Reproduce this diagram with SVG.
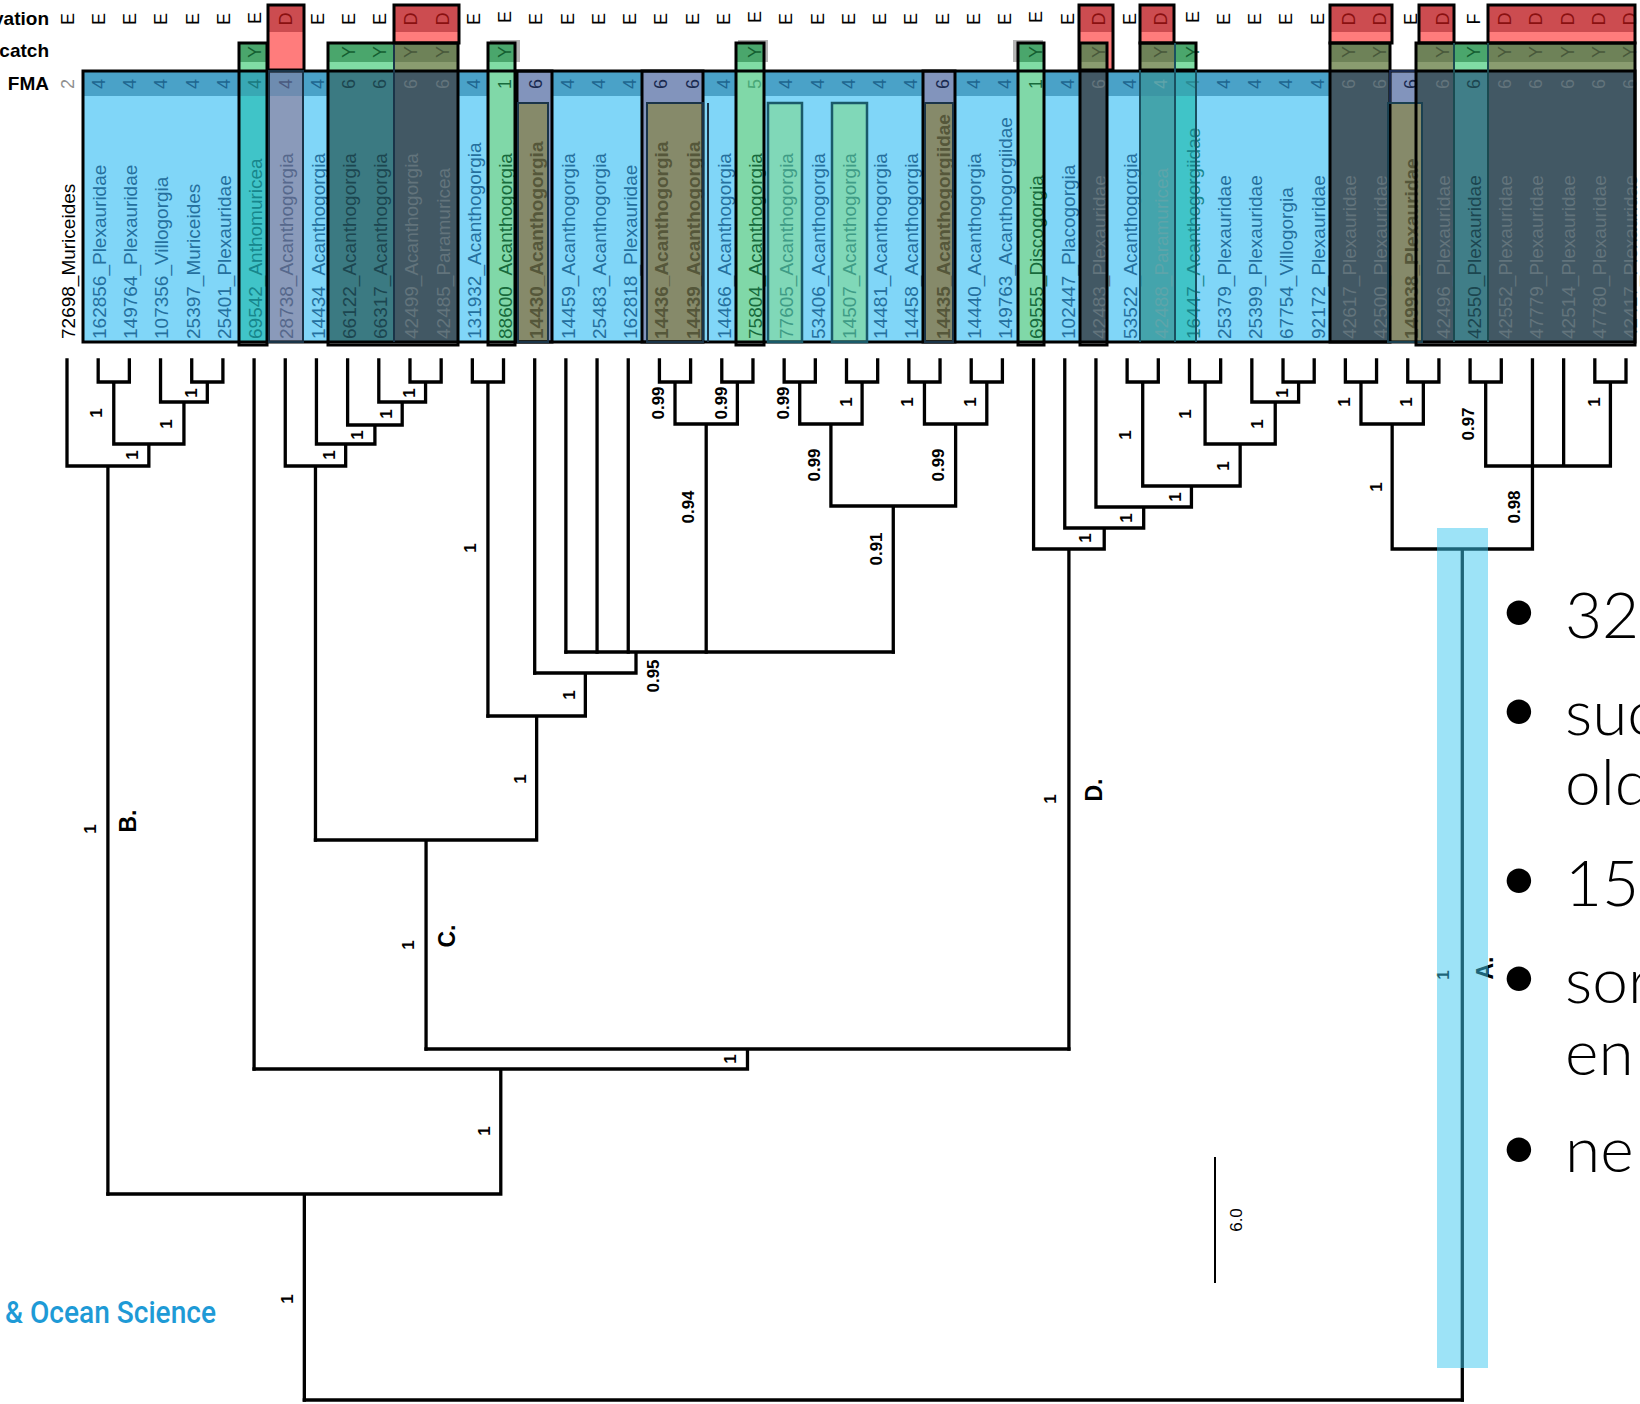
<svg xmlns="http://www.w3.org/2000/svg" width="1640" height="1404" viewBox="0 0 1640 1404">
<style>
text{font-family:"Liberation Sans",Arial,sans-serif}
.lf{font-size:19px}
.b{font-weight:bold}
.cl{font-size:18px;text-anchor:middle}
.sp{font-size:17px;font-weight:bold;text-anchor:middle}
.cld{font-size:23px;font-weight:bold;text-anchor:middle}
.hd{font-size:19px;font-weight:bold;text-anchor:end}
.tree{fill:none;stroke:#000;stroke-width:3.3;stroke-linecap:square}
.ol{fill:none;stroke:#000;stroke-width:3}
.ol2{fill:none;stroke:#1a3448;stroke-width:2}
.blt{font-family:Lato,"Open Sans",sans-serif;font-weight:300;font-size:64px;fill:#000}
.bul{font-family:Lato,"Open Sans",sans-serif;font-size:66px;fill:#000;text-anchor:middle}
.tb{fill:#25709e}.tt{fill:#17868c}.tp{fill:#56688c}.tk{fill:#1c4650}.ts{fill:#62747c}
.tg{fill:#176a3c}.to{fill:#55573a}.tm{fill:#3f9c86}.tc{fill:#5ea4aa}
.fb{fill:#1e6690}.fn{fill:#1a2a50}.fl{fill:#4aa878}.fgr{fill:#909090}
.ed{fill:#8a1010}.yg{fill:#145e30}.yo{fill:#48583a}
.rd{fill:#cc4c50}.rl{fill:#ff7c7c}.gd{fill:#4aa66c}.gl{fill:#80dca4}.od{fill:#6e8258}.oll{fill:#8a9c70}
.sl{fill:#425864}.pu{fill:#8294bc}.olv{fill:#868a6a}.lg{fill:#80d8a8}.mt{fill:#80d8b8}
</style>

<g id="background">
<rect x="83" y="71" width="1552" height="271" fill="#80d6f8"/>
<rect x="83" y="72" width="1552" height="24" fill="#4aa2c8"/>
<rect x="239" y="71" width="28" height="271" fill="#40c4c8"/>
<rect x="239" y="72" width="28" height="24" fill="#38a8b4"/>
<rect x="268" y="71" width="36" height="271" fill="#8a9aba"/>
<rect x="268" y="72" width="36" height="24" fill="#6e8cb0"/>
<rect x="328" y="71" width="66" height="271" fill="#3b7a82"/>
<rect x="394" y="71" width="64" height="271" class="sl"/>
<rect x="488" y="71" width="27" height="271" class="lg"/>
<rect x="517" y="71" width="35" height="271" class="pu"/>
<rect x="517" y="103" width="31" height="239" class="olv"/>
<rect x="642" y="71" width="61" height="271" class="pu"/>
<rect x="647" y="103" width="56" height="239" class="olv"/>
<rect x="736" y="71" width="28" height="271" class="lg"/>
<rect x="768" y="103" width="34" height="239" class="mt"/>
<rect x="832" y="103" width="35" height="239" class="mt"/>
<rect x="923" y="71" width="32" height="271" class="pu"/>
<rect x="925" y="103" width="28" height="239" class="olv"/>
<rect x="1018" y="71" width="26" height="271" class="lg"/>
<rect x="1080" y="71" width="27" height="271" class="sl"/>
<rect x="1140" y="71" width="35" height="271" fill="#44a4ac"/>
<rect x="1140" y="72" width="35" height="24" fill="#3c96a4"/>
<rect x="1175" y="71" width="21" height="271" fill="#40c4c8"/>
<rect x="1175" y="72" width="21" height="24" fill="#38a8b4"/>
<rect x="1330" y="71" width="60" height="271" class="sl"/>
<rect x="1416" y="71" width="38" height="271" class="sl"/>
<rect x="1390" y="71" width="26" height="32" class="pu"/>
<rect x="1388" y="103" width="34" height="239" class="olv"/>
<rect x="1454" y="71" width="34" height="271" fill="#407e88"/>
<rect x="1488" y="71" width="147" height="271" class="sl"/>
<rect x="268" y="5" width="36" height="27" class="rd"/><rect x="268" y="32" width="36" height="38" class="rl"/>
<rect x="394" y="5" width="65" height="27" class="rd"/><rect x="394" y="32" width="65" height="11" class="rl"/>
<rect x="1079" y="5" width="34" height="27" class="rd"/><rect x="1079" y="32" width="34" height="38" class="rl"/>
<rect x="1140" y="5" width="34" height="27" class="rd"/><rect x="1140" y="32" width="34" height="11" class="rl"/>
<rect x="1330" y="5" width="62" height="27" class="rd"/><rect x="1330" y="32" width="62" height="11" class="rl"/>
<rect x="1419" y="5" width="35" height="27" class="rd"/><rect x="1419" y="32" width="35" height="11" class="rl"/>
<rect x="1488" y="5" width="147" height="27" class="rd"/><rect x="1488" y="32" width="147" height="11" class="rl"/>
<rect x="490" y="40" width="30" height="22" fill="#b4b4b4"/>
<rect x="738" y="40" width="30" height="22" fill="#b4b4b4"/>
<rect x="1013" y="40" width="30" height="22" fill="#b4b4b4"/>
<rect x="239" y="43" width="28" height="19" class="gd"/><rect x="239" y="62" width="28" height="8" class="gl"/>
<rect x="328" y="43" width="66" height="19" class="gd"/><rect x="328" y="62" width="66" height="8" class="gl"/>
<rect x="394" y="43" width="64" height="19" class="od"/><rect x="394" y="62" width="64" height="8" class="oll"/>
<rect x="488" y="43" width="27" height="19" class="gd"/><rect x="488" y="62" width="27" height="8" class="gl"/>
<rect x="736" y="43" width="28" height="19" class="gd"/><rect x="736" y="62" width="28" height="8" class="gl"/>
<rect x="1018" y="43" width="26" height="19" class="gd"/><rect x="1018" y="62" width="26" height="8" class="gl"/>
<rect x="1080" y="43" width="27" height="19" class="od"/><rect x="1080" y="62" width="27" height="8" class="oll"/>
<rect x="1140" y="43" width="35" height="19" class="od"/><rect x="1140" y="62" width="35" height="8" class="oll"/>
<rect x="1175" y="43" width="21" height="19" class="gd"/><rect x="1175" y="62" width="21" height="8" class="gl"/>
<rect x="1330" y="43" width="60" height="19" class="od"/><rect x="1330" y="62" width="60" height="8" class="oll"/>
<rect x="1416" y="43" width="38" height="19" class="od"/><rect x="1416" y="62" width="38" height="8" class="oll"/>
<rect x="1454" y="43" width="34" height="19" class="gd"/><rect x="1454" y="62" width="34" height="8" class="gl"/>
<rect x="1488" y="43" width="147" height="19" class="od"/><rect x="1488" y="62" width="147" height="8" class="oll"/>
</g>

<g id="headers">
<text class="hd" x="49" y="25">vation</text>
<text class="hd" x="49" y="57">catch</text>
<text class="hd" x="49" y="90">FMA</text>
</g>

<g id="leaf0" transform="rotate(-90)"><text class="lf" x="-339" y="74.5">72698_Muriceides</text><text class="cl" x="-19" y="73.5">E</text><text class="cl fgr" x="-84" y="73.5">2</text></g>
<g id="leaf1" transform="rotate(-90)"><text class="lf tb" x="-339" y="105.75">162856_Plexauridae</text><text class="cl" x="-19" y="104.75">E</text><text class="cl fb" x="-84" y="104.75">4</text></g>
<g id="leaf2" transform="rotate(-90)"><text class="lf tb" x="-339" y="137">149764_Plexauridae</text><text class="cl" x="-19" y="136">E</text><text class="cl fb" x="-84" y="136">4</text></g>
<g id="leaf3" transform="rotate(-90)"><text class="lf tb" x="-339" y="168.25">107356_Villogorgia</text><text class="cl" x="-19" y="167.25">E</text><text class="cl fb" x="-84" y="167.25">4</text></g>
<g id="leaf4" transform="rotate(-90)"><text class="lf tb" x="-339" y="199.5">25397_Muriceides</text><text class="cl" x="-19" y="198.5">E</text><text class="cl fb" x="-84" y="198.5">4</text></g>
<g id="leaf5" transform="rotate(-90)"><text class="lf tb" x="-339" y="230.75">25401_Plexauridae</text><text class="cl" x="-19" y="229.75">E</text><text class="cl fb" x="-84" y="229.75">4</text></g>
<g id="leaf6" transform="rotate(-90)"><text class="lf tt" x="-339" y="262">69542_Anthomuricea</text><text class="cl" x="-18" y="261">E</text><text class="cl yg" x="-52" y="261">Y</text><text class="cl" fill="#1a7a80" x="-84" y="261">4</text></g>
<g id="leaf7" transform="rotate(-90)"><text class="lf tp" x="-339" y="293.25">28738_Acanthogorgia</text><text class="cl ed" x="-19" y="292.25">D</text><text class="cl" fill="#4a5a80" x="-84" y="292.25">4</text></g>
<g id="leaf8" transform="rotate(-90)"><text class="lf tb" x="-339" y="324.5">14434_Acanthogorgia</text><text class="cl" x="-19" y="323.5">E</text><text class="cl fb" x="-84" y="323.5">4</text></g>
<g id="leaf9" transform="rotate(-90)"><text class="lf tk" x="-339" y="355.75">66122_Acanthogorgia</text><text class="cl" x="-19" y="354.75">E</text><text class="cl yg" x="-52" y="354.75">Y</text><text class="cl tk" x="-84" y="354.75">6</text></g>
<g id="leaf10" transform="rotate(-90)"><text class="lf tk" x="-339" y="387">66317_Acanthogorgia</text><text class="cl" x="-19" y="386">E</text><text class="cl yg" x="-52" y="386">Y</text><text class="cl tk" x="-84" y="386">6</text></g>
<g id="leaf11" transform="rotate(-90)"><text class="lf ts" x="-339" y="418.25">42499_Acanthogorgia</text><text class="cl ed" x="-19" y="417.25">D</text><text class="cl yo" x="-52" y="417.25">Y</text><text class="cl ts" x="-84" y="417.25">6</text></g>
<g id="leaf12" transform="rotate(-90)"><text class="lf ts" x="-339" y="449.5">42485_Paramuricea</text><text class="cl ed" x="-19" y="448.5">D</text><text class="cl yo" x="-52" y="448.5">Y</text><text class="cl ts" x="-84" y="448.5">6</text></g>
<g id="leaf13" transform="rotate(-90)"><text class="lf tb" x="-339" y="480.75">131932_Acanthogorgia</text><text class="cl" x="-19" y="479.75">E</text><text class="cl fb" x="-84" y="479.75">4</text></g>
<g id="leaf14" transform="rotate(-90)"><text class="lf tg" x="-339" y="512">88600_Acanthogorgia</text><text class="cl" x="-17" y="511">E</text><text class="cl yg" x="-52" y="511">Y</text><text class="cl tg" x="-84" y="511">1</text></g>
<g id="leaf15" transform="rotate(-90)"><text class="lf b to" x="-339" y="543.25">14430_Acanthogorgia</text><text class="cl" x="-19" y="542.25">E</text><text class="cl fn" x="-84" y="542.25">6</text></g>
<g id="leaf16" transform="rotate(-90)"><text class="lf tb" x="-339" y="574.5">14459_Acanthogorgia</text><text class="cl" x="-19" y="573.5">E</text><text class="cl fb" x="-84" y="573.5">4</text></g>
<g id="leaf17" transform="rotate(-90)"><text class="lf tb" x="-339" y="605.75">25483_Acanthogorgia</text><text class="cl" x="-19" y="604.75">E</text><text class="cl fb" x="-84" y="604.75">4</text></g>
<g id="leaf18" transform="rotate(-90)"><text class="lf tb" x="-339" y="637">162818_Plexauridae</text><text class="cl" x="-19" y="636">E</text><text class="cl fb" x="-84" y="636">4</text></g>
<g id="leaf19" transform="rotate(-90)"><text class="lf b to" x="-339" y="668.25">14436_Acanthogorgia</text><text class="cl" x="-19" y="667.25">E</text><text class="cl fn" x="-84" y="667.25">6</text></g>
<g id="leaf20" transform="rotate(-90)"><text class="lf b to" x="-339" y="699.5">14439_Acanthogorgia</text><text class="cl" x="-19" y="698.5">E</text><text class="cl fn" x="-84" y="698.5">6</text></g>
<g id="leaf21" transform="rotate(-90)"><text class="lf tb" x="-339" y="730.75">14466_Acanthogorgia</text><text class="cl" x="-19" y="729.75">E</text><text class="cl fb" x="-84" y="729.75">4</text></g>
<g id="leaf22" transform="rotate(-90)"><text class="lf tg" x="-339" y="762">75804_Acanthogorgia</text><text class="cl" x="-17" y="761">E</text><text class="cl yg" x="-52" y="761">Y</text><text class="cl fl" x="-84" y="761">5</text></g>
<g id="leaf23" transform="rotate(-90)"><text class="lf tm" x="-339" y="793.25">77605_Acanthogorgia</text><text class="cl" x="-19" y="792.25">E</text><text class="cl fb" x="-84" y="792.25">4</text></g>
<g id="leaf24" transform="rotate(-90)"><text class="lf tb" x="-339" y="824.5">53406_Acanthogorgia</text><text class="cl" x="-19" y="823.5">E</text><text class="cl fb" x="-84" y="823.5">4</text></g>
<g id="leaf25" transform="rotate(-90)"><text class="lf tm" x="-339" y="855.75">14507_Acanthogorgia</text><text class="cl" x="-19" y="854.75">E</text><text class="cl fb" x="-84" y="854.75">4</text></g>
<g id="leaf26" transform="rotate(-90)"><text class="lf tb" x="-339" y="887">14481_Acanthogorgia</text><text class="cl" x="-19" y="886">E</text><text class="cl fb" x="-84" y="886">4</text></g>
<g id="leaf27" transform="rotate(-90)"><text class="lf tb" x="-339" y="918.25">14458_Acanthogorgia</text><text class="cl" x="-19" y="917.25">E</text><text class="cl fb" x="-84" y="917.25">4</text></g>
<g id="leaf28" transform="rotate(-90)"><text class="lf b to" x="-339" y="949.5">14435_Acanthogorgiidae</text><text class="cl" x="-19" y="948.5">E</text><text class="cl fn" x="-84" y="948.5">6</text></g>
<g id="leaf29" transform="rotate(-90)"><text class="lf tb" x="-339" y="980.75">14440_Acanthogorgia</text><text class="cl" x="-19" y="979.75">E</text><text class="cl fb" x="-84" y="979.75">4</text></g>
<g id="leaf30" transform="rotate(-90)"><text class="lf tb" x="-339" y="1012">149763_Acanthogorgiidae</text><text class="cl" x="-19" y="1011">E</text><text class="cl fb" x="-84" y="1011">4</text></g>
<g id="leaf31" transform="rotate(-90)"><text class="lf tg" x="-339" y="1043.25">69555_Discogorgia</text><text class="cl" x="-17" y="1042.25">E</text><text class="cl yg" x="-52" y="1042.25">Y</text><text class="cl tg" x="-84" y="1042.25">1</text></g>
<g id="leaf32" transform="rotate(-90)"><text class="lf tb" x="-339" y="1074.5">102447_Placogorgia</text><text class="cl" x="-19" y="1073.5">E</text><text class="cl fb" x="-84" y="1073.5">4</text></g>
<g id="leaf33" transform="rotate(-90)"><text class="lf ts" x="-339" y="1105.75">42483_Plexauridae</text><text class="cl ed" x="-19" y="1104.75">D</text><text class="cl yo" x="-52" y="1104.75">Y</text><text class="cl ts" x="-84" y="1104.75">6</text></g>
<g id="leaf34" transform="rotate(-90)"><text class="lf tb" x="-339" y="1137">53522_Acanthogorgia</text><text class="cl" x="-19" y="1136">E</text><text class="cl fb" x="-84" y="1136">4</text></g>
<g id="leaf35" transform="rotate(-90)"><text class="lf tc" x="-339" y="1168.25">42488_Paramuricea</text><text class="cl ed" x="-19" y="1167.25">D</text><text class="cl yo" x="-52" y="1167.25">Y</text><text class="cl tc" x="-84" y="1167.25">4</text></g>
<g id="leaf36" transform="rotate(-90)"><text class="lf tt" x="-339" y="1199.5">16447_Acanthogorgiidae</text><text class="cl" x="-17" y="1198.5">E</text><text class="cl yg" x="-52" y="1198.5">Y</text><text class="cl" fill="#2a8a94" x="-84" y="1198.5">4</text></g>
<g id="leaf37" transform="rotate(-90)"><text class="lf tb" x="-339" y="1230.75">25379_Plexauridae</text><text class="cl" x="-19" y="1229.75">E</text><text class="cl fb" x="-84" y="1229.75">4</text></g>
<g id="leaf38" transform="rotate(-90)"><text class="lf tb" x="-339" y="1262">25399_Plexauridae</text><text class="cl" x="-19" y="1261">E</text><text class="cl fb" x="-84" y="1261">4</text></g>
<g id="leaf39" transform="rotate(-90)"><text class="lf tb" x="-339" y="1293.25">67754_Villogorgia</text><text class="cl" x="-19" y="1292.25">E</text><text class="cl fb" x="-84" y="1292.25">4</text></g>
<g id="leaf40" transform="rotate(-90)"><text class="lf tb" x="-339" y="1324.5">92172_Plexauridae</text><text class="cl" x="-19" y="1323.5">E</text><text class="cl fb" x="-84" y="1323.5">4</text></g>
<g id="leaf41" transform="rotate(-90)"><text class="lf ts" x="-339" y="1355.75">42617_Plexauridae</text><text class="cl ed" x="-19" y="1354.75">D</text><text class="cl yo" x="-52" y="1354.75">Y</text><text class="cl ts" x="-84" y="1354.75">6</text></g>
<g id="leaf42" transform="rotate(-90)"><text class="lf ts" x="-339" y="1387">42500_Plexauridae</text><text class="cl ed" x="-19" y="1386">D</text><text class="cl yo" x="-52" y="1386">Y</text><text class="cl ts" x="-84" y="1386">6</text></g>
<g id="leaf43" transform="rotate(-90)"><text class="lf b to" x="-339" y="1418.25">149938_Plexauridae</text><text class="cl" x="-19" y="1417.25">E</text><text class="cl fn" x="-84" y="1417.25">6</text></g>
<g id="leaf44" transform="rotate(-90)"><text class="lf ts" x="-339" y="1449.5">42496_Plexauridae</text><text class="cl ed" x="-19" y="1448.5">D</text><text class="cl yo" x="-52" y="1448.5">Y</text><text class="cl ts" x="-84" y="1448.5">6</text></g>
<g id="leaf45" transform="rotate(-90)"><text class="lf tk" x="-339" y="1480.75">42550_Plexauridae</text><text class="cl" x="-19" y="1479.75">F</text><text class="cl yg" x="-52" y="1479.75">Y</text><text class="cl tk" x="-84" y="1479.75">6</text></g>
<g id="leaf46" transform="rotate(-90)"><text class="lf ts" x="-339" y="1512">42552_Plexauridae</text><text class="cl ed" x="-19" y="1511">D</text><text class="cl yo" x="-52" y="1511">Y</text><text class="cl ts" x="-84" y="1511">6</text></g>
<g id="leaf47" transform="rotate(-90)"><text class="lf ts" x="-339" y="1543.25">47779_Plexauridae</text><text class="cl ed" x="-19" y="1542.25">D</text><text class="cl yo" x="-52" y="1542.25">Y</text><text class="cl ts" x="-84" y="1542.25">6</text></g>
<g id="leaf48" transform="rotate(-90)"><text class="lf ts" x="-339" y="1574.5">42514_Plexauridae</text><text class="cl ed" x="-19" y="1573.5">D</text><text class="cl yo" x="-52" y="1573.5">Y</text><text class="cl ts" x="-84" y="1573.5">6</text></g>
<g id="leaf49" transform="rotate(-90)"><text class="lf ts" x="-339" y="1605.75">47780_Plexauridae</text><text class="cl ed" x="-19" y="1604.75">D</text><text class="cl yo" x="-52" y="1604.75">Y</text><text class="cl ts" x="-84" y="1604.75">6</text></g>
<g id="leaf50" transform="rotate(-90)"><text class="lf ts" x="-339" y="1637">42417_Plexauridae</text><text class="cl ed" x="-19" y="1636">D</text><text class="cl yo" x="-52" y="1636">Y</text><text class="cl ts" x="-84" y="1636">6</text></g>

<g id="outlines">
<rect class="ol" x="83" y="71" width="1552" height="271"/>
<rect class="ol" x="239" y="43" width="28" height="302"/>
<rect class="ol" x="268" y="5" width="36" height="65"/>
<rect class="ol2" x="269" y="71" width="34" height="271"/>
<rect class="ol" x="328" y="43" width="130" height="302"/>
<line class="ol2" x1="394" y1="43" x2="394" y2="342"/>
<rect class="ol" x="394" y="5" width="65" height="38"/>
<rect class="ol" x="488" y="43" width="27" height="302"/>
<rect class="ol" x="517" y="71" width="35" height="271"/>
<rect class="ol2" x="518" y="103" width="30" height="239"/>
<rect class="ol" x="642" y="71" width="61" height="271"/>
<rect class="ol2" x="647" y="103" width="56" height="239"/>
<line class="ol2" x1="708" y1="103" x2="708" y2="342"/>
<rect class="ol" x="736" y="43" width="28" height="302"/>
<rect x="768" y="103" width="34" height="239" fill="none" stroke="#1a5a6a" stroke-width="2.5"/>
<rect x="832" y="103" width="35" height="239" fill="none" stroke="#1a5a6a" stroke-width="2.5"/>
<rect class="ol" x="923" y="71" width="32" height="271"/>
<rect class="ol2" x="925" y="103" width="28" height="239"/>
<rect class="ol" x="1018" y="43" width="26" height="302"/>
<rect class="ol" x="1079" y="5" width="34" height="65"/>
<rect class="ol" x="1080" y="43" width="27" height="302"/>
<rect class="ol" x="1140" y="5" width="34" height="38"/>
<rect class="ol" x="1140" y="43" width="56" height="27"/>
<path d="M1140,70V342M1175,43V342M1196,70V342" fill="none" stroke="#1a5060" stroke-width="2"/>
<rect class="ol" x="1330" y="5" width="62" height="38"/>
<rect class="ol" x="1330" y="43" width="60" height="299"/>
<rect x="1390" y="71" width="26" height="32" fill="none" stroke="#1a2a50" stroke-width="2"/>
<rect x="1388" y="103" width="34" height="239" fill="none" stroke="#1a4050" stroke-width="2"/>
<rect class="ol" x="1416" y="43" width="219" height="302"/>
<rect class="ol" x="1419" y="5" width="35" height="38"/>
<rect class="ol" x="1488" y="5" width="147" height="38"/>
<path d="M1454,43V342M1488,43V342" fill="none" stroke="#1a4a50" stroke-width="2"/>
</g>

<g id="connectors">
<path class="tree" d="M67,360V466M98.18,360V382M129.36,360V382M98.18,382H129.36M113.77,382V444M160.54,360V402M191.72,360V382M222.9,360V382M191.72,382H222.9M207.31,382V402M160.54,402H207.31M183.93,402V444M113.77,444H183.93M148.85,444V466M67,466H148.85M107.9,466V1194"/>
<path class="tree" d="M254.08,360V1069"/>
<path class="tree" d="M285.26,360V466M316.44,360V444M347.62,360V425M378.8,360V402M409.98,360V382M441.16,360V382M409.98,382H441.16M425.57,382V402M378.8,402H425.57M402.19,402V425M347.62,425H402.19M374.9,425V444M316.44,444H374.9M345.67,444V466M285.26,466H345.67M315.47,466V840"/>
<path class="tree" d="M472.34,360V382M503.52,360V382M472.34,382H503.52M487.93,382V716M534.7,360V673M565.88,360V652M597.06,360V652M628.24,360V652"/>
<path class="tree" d="M659.42,360V382M690.6,360V382M659.42,382H690.6M675.01,382V424M721.78,360V382M752.96,360V382M721.78,382H752.96M737.37,382V424M675.01,424H737.37M706.19,424V652"/>
<path class="tree" d="M784.14,360V382M815.32,360V382M784.14,382H815.32M799.73,382V424M846.5,360V382M877.68,360V382M846.5,382H877.68M862.09,382V424M799.73,424H862.09M830.91,424V506M908.86,360V382M940.04,360V382M908.86,382H940.04M924.45,382V424M971.22,360V382M1002.4,360V382M971.22,382H1002.4M986.81,382V424M924.45,424H986.81M955.63,424V506M830.91,506H955.63M893.27,506V652"/>
<path class="tree" d="M565.88,652H893.27M636,652V673M534.7,673H636M585.35,673V716M487.93,716H585.35M536.64,716V840M315.47,840H536.64M426.06,840V1049"/>
<path class="tree" d="M1033.58,360V549M1064.76,360V528M1095.94,360V507M1127.12,360V382M1158.3,360V382M1127.12,382H1158.3M1142.71,382V486M1189.48,360V382M1220.66,360V382M1189.48,382H1220.66M1205.07,382V444M1251.84,360V402M1283.02,360V382M1314.2,360V382M1283.02,382H1314.2M1298.61,382V402M1251.84,402H1298.61M1275.23,402V444M1205.07,444H1275.23M1240.15,444V486M1142.71,486H1240.15M1191.43,486V507M1095.94,507H1191.43M1143.69,507V528M1064.76,528H1143.69M1104.22,528V549M1033.58,549H1104.22M1068.9,549V1049"/>
<path class="tree" d="M426.06,1049H1068.9M747.48,1049V1069M254.08,1069H747.48M500.78,1069V1194M107.9,1194H500.78M304.34,1194V1400"/>
<path class="tree" d="M1345.38,360V382M1376.56,360V382M1345.38,382H1376.56M1360.97,382V424M1407.74,360V382M1438.92,360V382M1407.74,382H1438.92M1423.33,382V424M1360.97,424H1423.33M1392.15,424V549M1470.1,360V382M1501.28,360V382M1470.1,382H1501.28M1485.69,382V466M1532.46,360V549M1563.64,360V466M1594.82,360V382M1626,360V382M1594.82,382H1626M1610.41,382V466M1485.69,466H1610.41M1392.15,549H1532.46M1462.3,549V1400"/>
<path class="tree" d="M304.34,1400H1462.3"/>
<path d="M1215,1157V1283" fill="none" stroke="#000" stroke-width="2"/>
</g>

<g id="support" class="sp" transform="rotate(-90)">
<text x="-413" y="102">1</text><text x="-393" y="197">1</text><text x="-424" y="172">1</text><text x="-455" y="138">1</text><text x="-829" y="96">1</text>
<text x="-393" y="415">1</text><text x="-414" y="392">1</text><text x="-435" y="363">1</text><text x="-455" y="335">1</text>
<text x="-548" y="476">1</text><text x="-779" y="526">1</text><text x="-945" y="414">1</text><text x="-695" y="575">1</text>
<text x="-676" y="659">0.95</text>
<text x="-403" y="664">0.99</text><text x="-403" y="727">0.99</text><text x="-507" y="694">0.94</text>
<text x="-403" y="789">0.99</text><text x="-402" y="852">1</text><text x="-402" y="913">1</text><text x="-402" y="976">1</text>
<text x="-465" y="820">0.99</text><text x="-465" y="944">0.99</text><text x="-549" y="882">0.91</text>
<text x="-538" y="1091">1</text><text x="-435" y="1131">1</text><text x="-414" y="1191">1</text><text x="-393" y="1288">1</text>
<text x="-424" y="1263">1</text><text x="-466" y="1229">1</text><text x="-497" y="1181">1</text><text x="-518" y="1132">1</text>
<text x="-799" y="1056">1</text><text x="-1059" y="736">1</text><text x="-1131" y="490">1</text><text x="-1299" y="293">1</text>
<text x="-402" y="1350">1</text><text x="-402" y="1412">1</text><text x="-487" y="1382">1</text><text x="-424" y="1474">0.97</text>
<text x="-402" y="1600">1</text><text x="-507" y="1520">0.98</text><text x="-975" y="1449">1</text>
</g>

<g id="clade-labels" class="cld" transform="rotate(-90)">
<text x="-821" y="136">B.</text><text x="-936" y="455">C.</text><text x="-790" y="1102">D.</text><text x="-968" y="1493">A.</text>
<text x="-1220" y="1242" style="font-size:17px;font-weight:normal">6.0</text>
</g>

<rect id="band" x="1437" y="528" width="51" height="840" fill="#3cc8f0" fill-opacity="0.5"/>

<g id="slide-text">
<text x="5" y="1323" fill="#1e9ad6" style="font-family:Roboto,'Liberation Sans',sans-serif;font-weight:500;font-size:31px" textLength="211" lengthAdjust="spacingAndGlyphs">&amp; Ocean Science</text>
<text class="bul" x="1519" y="632">•</text><text class="blt" x="1565" y="638">32</text>
<text class="bul" x="1519" y="731">•</text><text class="blt" x="1565" y="735">suc</text>
<text class="blt" x="1565" y="805">old</text>
<text class="bul" x="1519" y="900">•</text><text class="blt" x="1565" y="906">15</text>
<text class="bul" x="1519" y="998">•</text><text class="blt" x="1565" y="1003">sor</text>
<text class="blt" x="1565" y="1075">en</text>
<text class="bul" x="1519" y="1169">•</text><text class="blt" x="1565" y="1172">ne</text>
</g>
</svg>
